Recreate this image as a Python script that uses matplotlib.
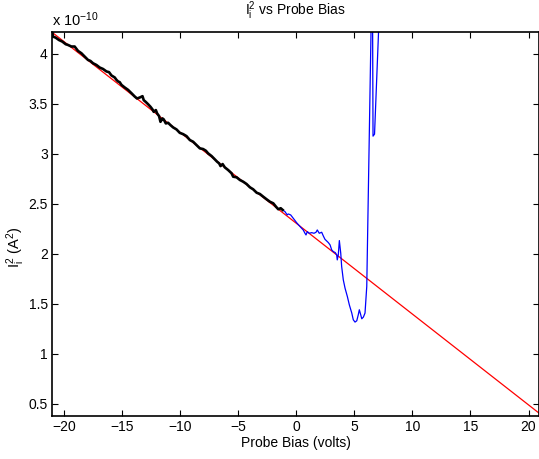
import numpy as np
import matplotlib
matplotlib.use('Agg')
import matplotlib.pyplot as plt

plt.rcParams['font.family'] = ['Liberation Sans', 'DejaVu Sans']
plt.rcParams['font.size'] = 10
plt.rcParams['mathtext.default'] = 'regular'

# values in units of 1e-10 A^2
# linear fit (red)
fit_v = [-21.0, 21.0]
fit_i2 = [4.21, 0.40]

# ion-saturation region used for the fit (black)
sat_v = [-21.00, -20.95, -20.72, -20.43, -20.14, -19.85, -19.66, -19.36, -19.08, -18.79,
         -18.50, -18.22, -17.93, -17.72, -17.50, -17.21, -16.92, -16.64, -16.34, -16.12,
         -15.91, -15.63, -15.48, -15.34, -15.20, -15.05, -14.77, -14.48, -14.19, -13.91,
         -13.71, -13.47, -13.24, -13.13, -12.96, -12.76, -12.55, -12.38, -12.27, -12.09,
         -11.98, -11.81, -11.69, -11.52, -11.41, -11.23, -11.03, -10.83, -10.60, -10.31,
         -10.03, -9.74, -9.45, -9.16, -8.88, -8.59, -8.30, -8.02, -7.78, -7.59,
         -7.29, -7.01, -6.81, -6.64, -6.52, -6.34, -6.15, -5.86, -5.57, -5.43,
         -5.14, -4.85, -4.57, -4.28, -3.99, -3.71, -3.41, -3.13, -2.84, -2.55,
         -2.27, -1.98, -1.75, -1.55, -1.34, -1.17]
sat_i2 = [4.212, 4.169, 4.159, 4.135, 4.119, 4.093, 4.086, 4.070, 4.070, 4.026,
          4.003, 3.970, 3.936, 3.926, 3.903, 3.886, 3.860, 3.846, 3.821, 3.814,
          3.781, 3.761, 3.737, 3.721, 3.714, 3.687, 3.661, 3.637, 3.604, 3.571,
          3.551, 3.561, 3.574, 3.534, 3.517, 3.494, 3.468, 3.442, 3.418, 3.435,
          3.402, 3.375, 3.318, 3.352, 3.342, 3.302, 3.308, 3.285, 3.262, 3.242,
          3.208, 3.195, 3.175, 3.136, 3.119, 3.086, 3.053, 3.046, 3.029, 3.003,
          2.976, 2.943, 2.919, 2.903, 2.876, 2.896, 2.863, 2.836, 2.804, 2.770,
          2.764, 2.737, 2.720, 2.697, 2.664, 2.644, 2.610, 2.597, 2.570, 2.544,
          2.520, 2.504, 2.471, 2.445, 2.455, 2.438]

# rest of the sweep (blue)
rest_v = [-1.17, -0.97, -0.78, -0.69, -0.48, -0.26, 0.03, 0.38, 0.60, 0.75,
          0.84, 0.95, 1.12, 1.33, 1.53, 1.70, 1.81, 1.98, 2.19, 2.33,
          2.47, 2.76, 2.91, 3.05, 3.19, 3.36, 3.48, 3.53, 3.62, 3.71,
          3.83, 3.91, 4.05, 4.20, 4.40, 4.57, 4.78, 4.91, 5.06, 5.21,
          5.34, 5.43, 5.55, 5.64, 5.78, 5.92, 6.07, 6.55, 6.61, 6.74, 7.35]
rest_i2 = [2.438, 2.421, 2.388, 2.398, 2.388, 2.355, 2.311, 2.265, 2.238, 2.205,
           2.188, 2.221, 2.205, 2.211, 2.205, 2.215, 2.238, 2.205, 2.215, 2.178,
           2.145, 2.112, 2.089, 2.039, 2.022, 2.012, 1.989, 1.939, 1.989, 2.132,
           2.006, 1.872, 1.740, 1.657, 1.573, 1.490, 1.408, 1.341, 1.318, 1.331,
           1.391, 1.441, 1.391, 1.351, 1.368, 1.408, 1.673, 5.0, 3.175, 3.195, 5.0]

fig = plt.figure(figsize=(5.39, 4.59), dpi=100)
ax = fig.add_axes([52 / 539, 43 / 459, 487 / 539, 384 / 459])

ax.plot(fit_v, fit_i2, color='red', lw=0.9)
ax.plot(rest_v, rest_i2, color='blue', lw=0.9)
ax.plot(sat_v, sat_i2, color='black', lw=1.9)

ax.set_xlim(-21.03, 20.9)
ax.set_ylim(0.38, 4.215)
ax.set_xticks([-20, -15, -10, -5, 0, 5, 10, 15, 20])
ax.set_yticks([0.5, 1, 1.5, 2, 2.5, 3, 3.5, 4])
ax.set_yticklabels(['0.5', '1', '1.5', '2', '2.5', '3', '3.5', '4'])
ax.tick_params(direction='in', top=True, right=True, length=4, width=0.8, pad=3)
for s in ax.spines.values():
    s.set_linewidth(1.2)

ax.text(0, 1.008, r'x 10$^{-10}$', transform=ax.transAxes, ha='left', va='bottom',
        fontsize=10.5)
ax.set_title(r'I$_i^2$ vs Probe Bias', fontsize=10, pad=12)
ax.set_xlabel('Probe Bias (volts)', labelpad=1)
ax.set_ylabel(r'I$_i^2$ (A$^2$)', fontsize=10.5)
ax.yaxis.set_label_coords(-0.052, 0.44)

plt.savefig('out.png', dpi=100)
